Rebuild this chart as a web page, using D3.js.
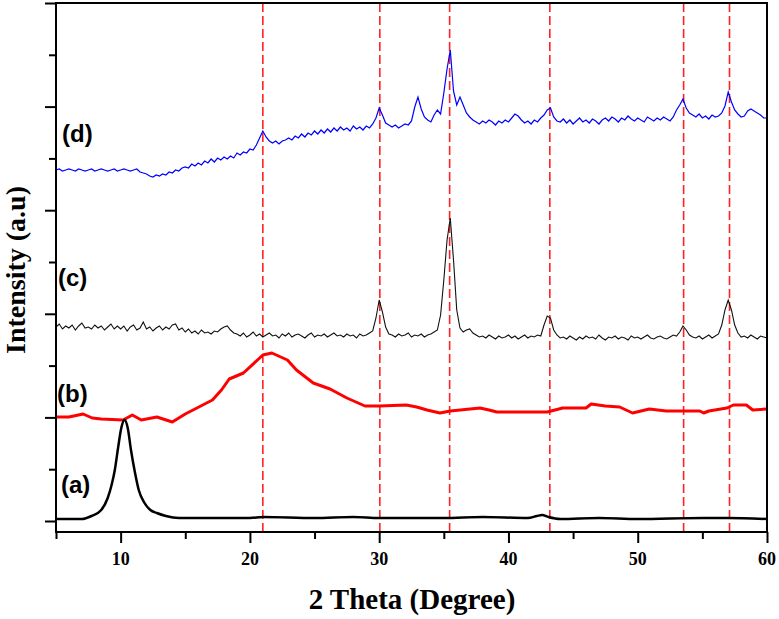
<!DOCTYPE html>
<html>
<head>
<meta charset="utf-8">
<script src="https://cdn.jsdelivr.net/npm/d3@7/dist/d3.min.js"></script>
<style>
  html, body { margin: 0; padding: 0; background: #fff; }
  svg { display: block; }
</style>
</head>
<body>
<svg id="chart" width="779" height="619"></svg>
<script>
// ---------------- DATA ----------------
const xTickLabels = [10, 20, 30, 40, 50, 60];
const xMinorTicks = [5, 15, 25, 35, 45, 55];
const refLines = [21.0, 30.05, 35.45, 43.2, 53.55, 57.1];
const seriesLabels = ["(a)", "(b)", "(c)", "(d)"];

// (a) smooth pattern [2theta, intensity]
const seriesA = [
  [5, 2], [6, 2], [7, 2], [7.75, 5], [8.5, 11], [9.0, 23], [9.3, 36], [9.55, 51],
  [9.8, 73], [10.05, 93], [10.3, 101], [10.55, 93], [10.8, 71], [11.1, 49],
  [11.4, 31], [11.8, 19], [12.3, 11], [12.8, 8], [13.5, 5], [14.5, 3], [17, 3],
  [20, 3], [21, 4], [25, 3], [28, 4], [30, 3], [35, 3], [38, 4], [41.5, 3],
  [42.2, 5], [42.6, 6], [43.1, 4], [44, 2], [47, 3], [50, 2], [55, 3], [57, 3], [60, 2]
];

// (b) red pattern [2theta, intensity]
const seriesB = [
  [5, 104], [6, 104], [7.1, 107], [7.8, 103], [8.5, 102], [10.2, 101], [10.9, 106],
  [11.6, 101], [12.8, 104], [14.0, 99], [15.0, 107], [15.9, 113], [17.1, 121],
  [17.8, 131], [18.4, 142], [19.5, 148], [21.0, 166], [21.7, 168], [22.9, 161],
  [23.6, 151], [24.9, 138], [26.2, 132], [27.5, 123], [28.9, 115], [30.0, 115],
  [32.1, 116], [32.9, 114], [33.7, 111], [34.7, 108], [35.5, 110], [37.8, 113],
  [38.5, 111], [39.1, 109], [43.0, 109], [44.2, 113], [46.0, 113], [46.4, 117],
  [47.5, 115], [48.6, 114], [49.6, 108], [50.9, 112], [52.2, 110], [54.8, 110],
  [55.1, 108], [55.5, 110], [56.9, 113], [57.4, 116], [58.4, 116], [58.9, 111], [60, 112]
];

// (c) and (d): intensity sampled every 0.25 degree from 5 to 60
const stepStart = 5, stepSize = 0.25;
const seriesC = [
  194,197,192,195,193,196,191,195,198,193,194,192,196,193,195,191,194,197,192,195,
  192,195,190,194,196,191,193,199,192,194,190,193,195,191,194,192,196,197,191,193,
  189,192,188,190,187,191,188,189,187,190,189,192,
  194,195,191,188,
  187,185,188,184,186,189,185,187,184,186,188,185,186,183,187,185,188,184,186,187,
  185,183,186,188,184,186,185,187,184,186,188,185,186,184,187,185,186,183,187,185,186,188,
  190,203,221,209,194,187,
  186,184,187,185,186,188,184,186,185,187,184,186,187,189,
  191,206,241,281,303,261,211,193,189,191,192,188,186,
  184,185,183,186,184,182,185,183,184,186,183,185,182,184,186,183,185,184,186,185,
  196,205,203,191,186,
  183,184,182,185,183,181,184,182,185,183,184,182,186,183,181,184,183,185,182,184,
  183,181,185,183,184,182,184,186,183,182,184,185,183,182,184,186,185,
  189,195,191,186,
  184,183,185,182,184,186,183,185,187,
  196,211,221,211,196,188,
  184,185,183,186,184,182,185,184,183
];
const seriesD = [
  351,352,350,351,352,351,350,352,351,350,351,352,350,351,352,351,350,351,352,350,351,352,351,350,351,352,
  349,348,347,345,344,346,345,347,346,349,348,351,350,353,
  354,353,357,355,358,356,360,358,362,359,363,361,364,362,365,363,368,366,369,368,372,371,376,
  383,390,384,380,378,380,377,380,
  381,383,381,385,383,387,384,388,386,390,387,391,388,392,389,393,390,394,391,393,390,395,392,394,391,395,393,397,
  403,413,406,398,396,394,
  396,393,395,397,396,400,
  414,424,412,404,401,399,
  406,411,407,428,452,471,430,416,424,416,408,404,401,399,
  397,400,398,401,399,396,400,398,401,399,403,
  407,405,401,398,400,397,401,399,
  403,406,411,413,404,400,
  399,402,398,401,397,400,403,399,401,398,402,400,397,401,
  403,400,404,402,399,403,401,405,402,400,403,401,399,404,402,400,403,401,404,402,400,404,
  411,416,422,413,408,
  406,404,407,403,405,402,406,404,405,408,
  415,429,419,411,407,404,
  405,410,412,410,408,406,403,403
];

// ---------------- CHART ----------------
const W = 779, H = 619;
const margin = { left: 56, right: 12, top: 3, bottom: 87 };
const svg = d3.select("#chart");
const x = d3.scaleLinear().domain([5, 60]).range([margin.left, W - margin.right]);
const y = d3.scaleLinear().domain([-11, 518]).range([H - margin.bottom, margin.top]);

const gridPts = arr => arr.map((v, i) => [stepStart + i * stepSize, v]);

// reference dashed lines
svg.append("g").selectAll("line").data(refLines).join("line")
  .attr("x1", d => x(d)).attr("x2", d => x(d))
  .attr("y1", y(518)).attr("y2", y(-11))
  .attr("stroke", "#ff2222").attr("stroke-width", 1.6)
  .attr("stroke-dasharray", "9,4");

const line = d3.line().x(d => x(d[0])).y(d => y(d[1]));
const lineSmooth = d3.line().x(d => x(d[0])).y(d => y(d[1])).curve(d3.curveMonotoneX);

svg.append("path").datum(gridPts(seriesD)).attr("d", line)
  .attr("fill", "none").attr("stroke", "#0000ff").attr("stroke-width", 1.2);
svg.append("path").datum(gridPts(seriesC)).attr("d", line)
  .attr("fill", "none").attr("stroke", "#111").attr("stroke-width", 1.1);
svg.append("path").datum(seriesB).attr("d", line)
  .attr("fill", "none").attr("stroke", "#ff0000").attr("stroke-width", 3)
  .attr("stroke-linejoin", "round");
svg.append("path").datum(seriesA).attr("d", lineSmooth)
  .attr("fill", "none").attr("stroke", "#000").attr("stroke-width", 2.5);

// axes
const axisStyle = g => {
  g.select(".domain").remove();
  g.selectAll(".tick line").attr("stroke", "#000").attr("stroke-width", 2);
  g.selectAll(".tick text").remove();
};
const yMajor = d3.range(0, 6).map(k => k * 103.6);
const yMinor = d3.range(0, 5).map(k => 51.8 + k * 103.6);

svg.append("g").attr("transform", `translate(0,${y(-11)})`)
  .call(d3.axisBottom(x).tickValues(xTickLabels).tickSize(11)).call(axisStyle);
svg.append("g").attr("transform", `translate(0,${y(-11)})`)
  .call(d3.axisBottom(x).tickValues(xMinorTicks).tickSize(7)).call(axisStyle);
svg.append("g").attr("transform", `translate(${x(5)},0)`)
  .call(d3.axisLeft(y).tickValues(yMajor).tickSize(11)).call(axisStyle);
svg.append("g").attr("transform", `translate(${x(5)},0)`)
  .call(d3.axisLeft(y).tickValues(yMinor).tickSize(7)).call(axisStyle);

// frame
svg.append("rect")
  .attr("x", x(5)).attr("y", y(518))
  .attr("width", x(60) - x(5)).attr("height", y(-11) - y(518))
  .attr("fill", "none").attr("stroke", "#000").attr("stroke-width", 2);

// tick labels
svg.append("g").selectAll("text").data(xTickLabels).join("text")
  .attr("x", d => x(d)).attr("y", 565)
  .attr("text-anchor", "middle")
  .attr("font-family", "'Liberation Serif', 'Times New Roman', serif")
  .attr("font-weight", "bold").attr("font-size", 18)
  .text(d => d);

// axis titles
svg.append("text").attr("x", 412).attr("y", 609)
  .attr("text-anchor", "middle")
  .attr("font-family", "'Liberation Serif', 'Times New Roman', serif")
  .attr("font-weight", "bold").attr("font-size", 29)
  .text("2 Theta (Degree)");
svg.append("text").attr("transform", "translate(25,270) rotate(-90)")
  .attr("text-anchor", "middle")
  .attr("font-family", "'Liberation Serif', 'Times New Roman', serif")
  .attr("font-weight", "bold").attr("font-size", 28)
  .text("Intensity (a.u)");

// series labels
const labelPos = [[61, 493], [57, 402], [58, 286], [62, 142]];
svg.append("g").selectAll("text").data(seriesLabels).join("text")
  .attr("x", (d, i) => labelPos[i][0]).attr("y", (d, i) => labelPos[i][1])
  .attr("font-family", "'Liberation Sans', Arial, sans-serif")
  .attr("font-weight", "bold").attr("font-size", 24)
  .text(d => d);
</script>
</body>
</html>
